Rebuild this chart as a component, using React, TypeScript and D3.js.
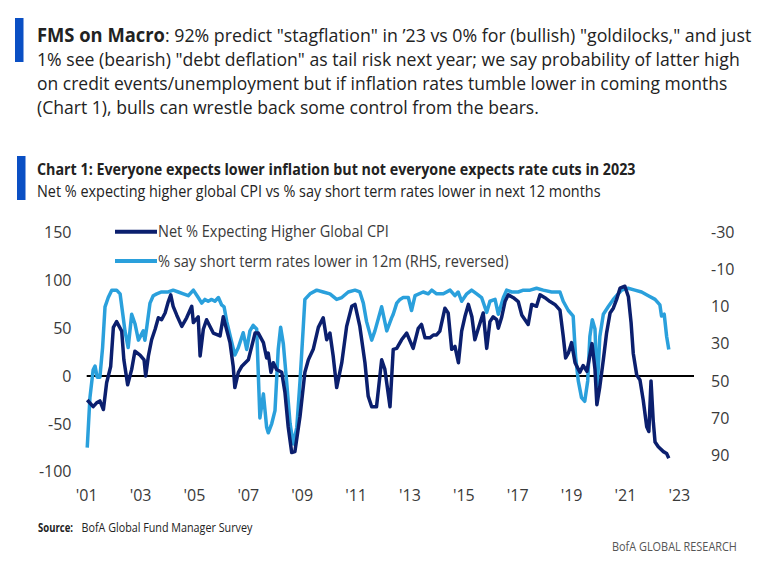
import React, { useLayoutEffect, useRef, useState } from "react";
import * as d3 from "d3";

// ---- Data ----
const cpiYears = [
  2001.02, 2001.24, 2001.37, 2001.49, 2001.62, 2001.74, 2001.89, 2001.99, 2002.11, 2002.3,
  2002.38, 2002.52, 2002.67, 2002.79, 2002.98, 2003.13, 2003.19, 2003.29, 2003.41, 2003.54,
  2003.66, 2003.78, 2003.91, 2004.03, 2004.12, 2004.21, 2004.34, 2004.53, 2004.71, 2004.9,
  2004.96, 2005.14, 2005.21, 2005.33, 2005.45, 2005.7, 2005.95, 2006.07, 2006.32, 2006.44,
  2006.5, 2006.63, 2006.75, 2007.0, 2007.25, 2007.37, 2007.56, 2007.68, 2007.74, 2007.84,
  2007.93, 2008.05, 2008.24, 2008.36, 2008.48, 2008.61, 2008.73, 2008.92, 2009.1, 2009.23,
  2009.41, 2009.6, 2009.78, 2009.91, 2010.03, 2010.15, 2010.28, 2010.47, 2010.65, 2010.84,
  2010.96, 2011.14, 2011.33, 2011.45, 2011.58, 2011.76, 2011.95, 2012.07, 2012.26, 2012.38,
  2012.51, 2012.69, 2012.88, 2013.12, 2013.31, 2013.43, 2013.56, 2013.74, 2013.87, 2013.99,
  2014.11, 2014.3, 2014.42, 2014.55, 2014.67, 2014.8, 2014.92, 2015.04, 2015.17, 2015.3,
  2015.41, 2015.54, 2015.72, 2015.85, 2015.97, 2016.09, 2016.22, 2016.28, 2016.4, 2016.53,
  2016.65, 2016.84, 2017.02, 2017.15, 2017.27, 2017.39, 2017.52, 2017.7, 2017.83, 2018.01,
  2018.2, 2018.38, 2018.57, 2018.69, 2018.78, 2018.88, 2019.0, 2019.13, 2019.31, 2019.43,
  2019.57, 2019.76, 2019.87, 2019.94, 2020.05, 2020.18, 2020.3, 2020.43, 2020.55, 2020.67,
  2020.8, 2020.98, 2021.11, 2021.21, 2021.29, 2021.42, 2021.54, 2021.66, 2021.79, 2021.87,
  2021.95, 2022.03, 2022.1, 2022.22, 2022.41, 2022.53, 2022.61,
];
const cpiValues = [
  -25, -32, -28, -26, -35, -7, 10, 51, 57, 47,
  17, -9, 7, 26, 22, 17, 0, 21, 38, 49,
  61, 59, 66, 78, 85, 73, 64, 52, 61, 73,
  56, 62, 21, 49, 59, 45, 42, 62, 35, 10,
  -12, 4, 10, 17, 45, 45, 35, 19, 24, 4,
  14, 7, 4, -17, -53, -80, -79, -42, 4, 17,
  28, 51, 61, 38, 45, 21, -12, 14, 52, 73,
  75, 52, 14, -21, -32, -32, 17, 7, -32, 28,
  29, 38, 45, 29, 50, 54, 40, 40, 43, 43,
  47, 71, 66, 28, 31, 14, 47, 62, 75, 62,
  38, 50, 66, 29, 57, 62, 59, 50, 61, 78,
  85, 82, 78, 64, 59, 54, 75, 73, 85, 82,
  78, 75, 69, 42, 19, 24, 35, 14, 4, 11,
  5, 34, 7, -30, -11, 17, 45, 66, 71, 80,
  92, 94, 83, 56, 24, 1, -4, -25, -53, -58,
  -5, -46, -69, -74, -79, -81, -86,
];

const rateYears = [
  2001.02, 2001.12, 2001.24, 2001.31, 2001.39, 2001.49, 2001.59, 2001.68, 2001.8, 2001.93,
  2002.11, 2002.24, 2002.34, 2002.42, 2002.54, 2002.67, 2002.79, 2002.92, 2003.1, 2003.16,
  2003.23, 2003.35, 2003.47, 2003.6, 2003.78, 2004.03, 2004.21, 2004.4, 2004.59, 2004.77,
  2004.96, 2005.14, 2005.27, 2005.39, 2005.51, 2005.64, 2005.76, 2005.89, 2006.01, 2006.1,
  2006.2, 2006.38, 2006.5, 2006.63, 2006.81, 2006.94, 2007.06, 2007.18, 2007.31, 2007.43,
  2007.56, 2007.68, 2007.74, 2007.87, 2007.99, 2008.11, 2008.2, 2008.3, 2008.42, 2008.55,
  2008.67, 2008.8, 2008.92, 2009.04, 2009.1, 2009.29, 2009.54, 2009.78, 2010.03, 2010.28,
  2010.47, 2010.71, 2010.96, 2011.14, 2011.27, 2011.39, 2011.58, 2011.7, 2011.95, 2012.14,
  2012.32, 2012.38, 2012.51, 2012.63, 2012.75, 2012.94, 2013.06, 2013.19, 2013.49, 2013.68,
  2013.81, 2013.99, 2014.24, 2014.49, 2014.67, 2014.79, 2014.92, 2015.11, 2015.29, 2015.48,
  2015.66, 2015.85, 2015.97, 2016.16, 2016.28, 2016.47, 2016.59, 2016.78, 2017.02, 2017.21,
  2017.46, 2017.7, 2017.95, 2018.26, 2018.57, 2018.69, 2018.88, 2019.06, 2019.15, 2019.25,
  2019.37, 2019.49, 2019.6, 2019.68, 2019.77, 2019.87, 2019.95, 2020.05, 2020.18, 2020.36,
  2020.55, 2020.67, 2020.86, 2021.1, 2021.35, 2021.6, 2021.85, 2022.1, 2022.28, 2022.34,
  2022.44, 2022.53, 2022.61,
];
const rateValues = [
  86, 59, 44, 42, 48, 48, 32, 10, 5, 1,
  1, 3, 14, 23, 32, 14, 19, 28, 23, 28,
  21, 8, 4, 3, 2, 2, 1, 2, 3, 4,
  1, 5, 8, 6, 7, 6, 7, 5, 9, 10,
  18, 29, 36, 32, 24, 33, 23, 20, 22, 70,
  57, 75, 78, 73, 66, 33, 21, 30, 50, 73,
  84, 75, 50, 21, 6, 3, 1, 2, 3, 6,
  5, 2, 1, 2, 8, 18, 28, 23, 10, 23,
  16, 14, 8, 6, 5, 5, 12, 4, 2, 3,
  1, 3, 3, 1, 4, 2, 7, 3, 1, 3,
  5, 13, 7, 6, 14, 5, 1, 2, 2, 1,
  1, 0, 1, 2, 2, 7, 12, 15, 37, 50,
  59, 61, 50, 26, 17, 22, 55, 26, 14, 10,
  6, 4, 1, 0, 1, 2, 4, 6, 9, 15,
  14, 26, 33,
];

const leftTicks = [150, 100, 50, 0, -50, -100];
const rightTicks = [-30, -10, 10, 30, 50, 70, 90];
const yearTicks = [2001, 2003, 2005, 2007, 2009, 2011, 2013, 2015, 2017, 2019, 2021, 2023];
const yearLabels = ["'01", "'03", "'05", "'07", "'09", "'11", "'13", "'15", "'17", "'19", "'21", "'23"];

const headerBold = "FMS on Macro";
const headerLines = [
  ': 92% predict "stagflation" in \u201923 vs 0% for (bullish) "goldilocks," and just',
  '1% see (bearish) "debt deflation" as tail risk next year; we say probability of latter high',
  "on credit events/unemployment but if inflation rates tumble lower in coming months",
  "(Chart 1), bulls can wrestle back some control from the bears.",
];
const chartTitle = "Chart 1: Everyone expects lower inflation but not everyone expects rate cuts in 2023";
const chartSubtitle = "Net % expecting higher global CPI vs % say short term rates lower in next 12 months";
const legendLabels = [
  "Net % Expecting Higher Global CPI",
  "% say short term rates lower in 12m (RHS, reversed)",
];

const DARK = "#0b1f6e";
const LIGHT = "#2aa0dc";
const BAR = "#0a4fc4";
const TEXT = "#222";
const AXIS = "#3a3a3a";

type FitProps = {
  x: number;
  y: number;
  width: number;
  children: string;
  [k: string]: any;
};

// Text squeezed horizontally so that its width matches the reference
function FitText({ x, y, width, children, ...rest }: FitProps) {
  const ref = useRef<SVGTextElement>(null);
  const [k, setK] = useState(1);
  useLayoutEffect(() => {
    if (ref.current) {
      const w = ref.current.getComputedTextLength();
      if (w > 0) setK(width / w);
    }
  }, [width, children]);
  return (
    <text ref={ref} x={0} y={0} transform={`translate(${x},${y}) scale(${k},1)`} {...rest}>
      {children}
    </text>
  );
}

export default function App() {
  const W = 768;
  const H = 583;
  const x = d3.scaleLinear().domain([2001, 2023]).range([86.7, 679.3]);
  const yL = d3.scaleLinear().domain([-100, 150]).range([471.7, 232.7]);
  const yR = d3.scaleLinear().domain([-30, 99]).range([232.7, 471.7]);
  const xEnd = x.invert(694);

  const cpiLine = d3
    .line<number>()
    .x((_, i) => x(cpiYears[i]))
    .y((d) => yL(d));
  const rateLine = d3
    .line<number>()
    .x((_, i) => x(rateYears[i]))
    .y((d) => yR(d));

  const headerWidths = [587, 703, 691, 502];
  const headerBase = [41.5, 65.5, 89.5, 113.5];

  return (
    <svg
      width={W}
      height={H}
      viewBox={`0 0 ${W} ${H}`}
      style={{ position: "absolute", left: 0, top: 0, background: "#fff" }}
      fontFamily="'Open Sans', sans-serif"
    >
      <rect x={0} y={0} width={W} height={H} fill="#fff" />
      {/* Header */}
      <rect x={15} y={18} width={8.5} height={44} fill={BAR} />
      <FitText x={37} y={headerBase[0]} width={128} fontSize={19} fontWeight={700} fill={TEXT}>
        {headerBold}
      </FitText>
      {headerLines.map((t, i) => (
        <FitText key={i} x={i === 0 ? 165 : 37} y={headerBase[i]} width={headerWidths[i]} fontSize={19} fill={TEXT}>
          {t}
        </FitText>
      ))}

      {/* Chart title */}
      <rect x={17} y={156} width={8.5} height={44} fill={BAR} />
      <FitText x={37} y={175} width={599} fontSize={16.5} fontWeight={700} fill={TEXT}>
        {chartTitle}
      </FitText>
      <FitText x={37} y={196.5} width={564} fontSize={15.5} fill={TEXT}>
        {chartSubtitle}
      </FitText>

      {/* Left axis labels */}
      {leftTicks.map((t) => (
        <text key={t} x={71.5} y={yL(t)} dy="0.35em" textAnchor="end" fontSize={16} fill={AXIS}>
          {t}
        </text>
      ))}
      {/* Right axis labels */}
      {rightTicks.map((t) => (
        <text key={t} x={711} y={yR(t)} dy="0.35em" textAnchor="start" fontSize={16} fill={AXIS}>
          {t}
        </text>
      ))}
      {/* X labels */}
      {yearTicks.map((t, i) => (
        <text key={t} x={x(t)} y={501} textAnchor="middle" fontSize={16} fill={AXIS}>
          {yearLabels[i]}
        </text>
      ))}

      {/* Zero line */}
      <line x1={x(2001)} x2={x(xEnd)} y1={yL(0)} y2={yL(0)} stroke="#000" strokeWidth={2} />

      {/* Series */}
      <path d={rateLine(rateValues) || ""} fill="none" stroke={LIGHT} strokeWidth={3.5} strokeLinejoin="round" />
      <path d={cpiLine(cpiValues) || ""} fill="none" stroke={DARK} strokeWidth={3.5} strokeLinejoin="round" />

      {/* Legend */}
      <line x1={115} x2={157} y1={231.7} y2={231.7} stroke={DARK} strokeWidth={4} />
      <FitText x={158} y={237.3} width={231} fontSize={16} fill={AXIS}>
        {legendLabels[0]}
      </FitText>
      <line x1={115} x2={157} y1={261} y2={261} stroke={LIGHT} strokeWidth={4} />
      <FitText x={158} y={266.6} width={351} fontSize={16} fill={AXIS}>
        {legendLabels[1]}
      </FitText>

      {/* Source */}
      <FitText x={38} y={532} width={35} fontSize={12.5} fontWeight={700} fill={TEXT}>
        Source:
      </FitText>
      <FitText x={81.5} y={532} width={171} fontSize={12.5} fill={TEXT}>
        BofA Global Fund Manager Survey
      </FitText>
      <FitText x={612} y={551} width={125} fontSize={13.5} fill="#555">
        BofA GLOBAL RESEARCH
      </FitText>
    </svg>
  );
}
